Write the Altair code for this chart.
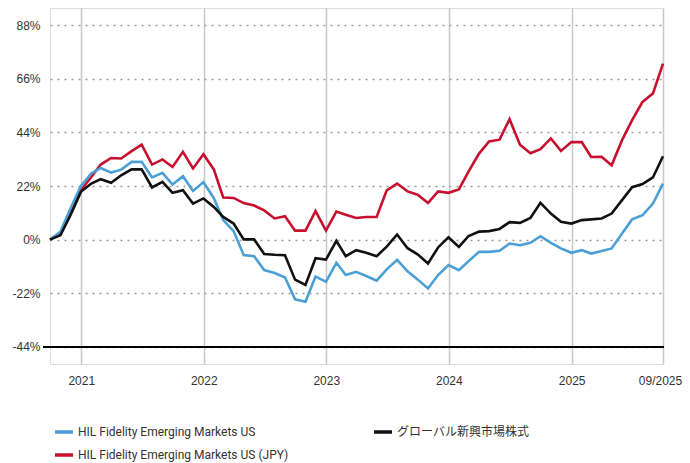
import altair as alt
import pandas as pd

# ---- data ----
dates = [d.strftime("%Y-%m-%d") for d in pd.date_range("2020-09-30", "2025-09-30", freq="ME")]

blue_name = "HIL Fidelity Emerging Markets US"
black_name = "グローバル新興市場株式"
red_name = "HIL Fidelity Emerging Markets US (JPY)"

blue_vals = [0, 3.2, 12.8, 22.0, 27.1, 29.4, 27.5, 28.7, 31.9, 31.9, 25.5, 27.4,
             22.6, 26.0, 20.0, 23.6, 17.0, 8.0, 3.5, -6.3, -6.8, -12.5, -13.7, -15.5,
             -24.5, -25.5, -15.1, -17.3, -9.5, -14.5, -13.2, -14.9, -16.8, -12.2, -8.3, -13.0,
             -16.3, -20.0, -14.5, -10.4, -12.5, -8.8, -5.0, -5.0, -4.6, -1.6, -2.3, -1.3,
             1.4, -1.3, -3.6, -5.4, -4.3, -5.7, -4.7, -3.6, 2.5, 8.3, 10.0, 14.8, 23.0]

black_vals = [0, 1.8, 10.0, 19.6, 23.0, 24.8, 23.3, 26.4, 28.8, 28.8, 21.4, 23.7,
              19.2, 20.3, 14.8, 16.9, 13.4, 9.3, 6.6, 0.1, 0.1, -5.9, -6.2, -6.4,
              -16.4, -18.6, -7.6, -8.2, -0.5, -6.8, -4.3, -5.4, -6.8, -2.9, 2.1, -3.5,
              -6.0, -9.8, -3.2, 1.0, -3.0, 1.5, 3.3, 3.5, 4.4, 7.2, 6.9, 8.9,
              15.1, 10.7, 7.3, 6.6, 8.0, 8.3, 8.7, 10.7, 16.2, 21.5, 22.8, 25.5, 34.2]

red_vals = [0, 2.5, 10.7, 20.3, 25.7, 30.8, 33.5, 33.3, 36.3, 39.0, 30.8, 32.9,
            29.8, 36.0, 29.2, 35.0, 28.8, 17.3, 17.1, 15.0, 14.0, 12.0, 8.7, 9.6,
            3.7, 3.7, 11.7, 3.7, 11.5, 10.2, 8.9, 9.3, 9.3, 20.2, 23.0, 19.8,
            18.4, 15.0, 19.8, 19.2, 20.6, 28.0, 35.3, 40.3, 41.0, 49.4, 38.9, 35.4,
            37.1, 41.5, 36.4, 40.0, 40.0, 33.9, 34.0, 30.5, 40.8, 49.0, 56.5, 59.9, 72.2]

# legend fills column by column: (blue, red) in column 1, black in column 2
series_names = [blue_name, red_name, black_name]
series_colors = ["#4a9fd6", "#c8102e", "#111111"]

y_ticks = [-44, -22, 0, 22, 44, 66, 88]
x_tick_dates = ["2021-01-01", "2022-01-01", "2023-01-01", "2024-01-01", "2025-01-01", "2025-09-30"]

# ---- build table ----
rows = []
for name, vals in [(red_name, red_vals), (blue_name, blue_vals), (black_name, black_vals)]:
    for d, v in zip(dates, vals):
        rows.append({"date": d, "value": v, "series": name})
df = pd.DataFrame(rows)

x_tick_ms = [int(pd.Timestamp(d).value // 10**6) for d in x_tick_dates]

W, H = 613, 356
axis_font = "Liberation Sans, Arial, sans-serif"
legend_font = "Roboto, Noto Sans CJK JP, sans-serif"

x_enc = alt.X(
    "date:T",
    scale=alt.Scale(type="utc",
                    domain=[int(pd.Timestamp(dates[0]).value // 10**6),
                            int(pd.Timestamp(dates[-1]).value // 10**6)]),
    axis=alt.Axis(
        title=None, values=x_tick_ms, domain=False, ticks=False, tickSize=0,
        labelExpr="utcmonth(datum.value) == 0 ? utcFormat(datum.value, '%Y') : utcFormat(datum.value, '%m/%Y')",
        grid=True, gridColor="#c8c8c8", gridWidth=1.5,
        labelFont=axis_font, labelFontSize=12, labelColor="#333333", labelPadding=11,
        labelFlush=False,
        labelOffset={"condition": {"test": "utcmonth(datum.value) != 0", "value": -3}, "value": 0},
    ),
)

y_enc = alt.Y(
    "value:Q",
    scale=alt.Scale(domain=[-51, 95], nice=False, zero=False),
    axis=alt.Axis(
        title=None, values=y_ticks, domain=False, ticks=False, tickSize=0,
        labelExpr="datum.value + '%'",
        grid=True, gridColor="#9a9a9a", gridDash=[2, 5], gridWidth=1.6,
        labelFont=axis_font, labelFontSize=12, labelColor="#333333", labelPadding=10,
    ),
)

lines = alt.Chart(df).mark_line(strokeWidth=2.6, strokeJoin="miter", interpolate="linear").encode(
    x=x_enc,
    y=y_enc,
    color=alt.Color(
        "series:N",
        scale=alt.Scale(domain=series_names, range=series_colors),
        legend=alt.Legend(
            title=None, orient="none", legendX=3, legendY=413, columns=2,
            columnPadding=78, rowPadding=5, symbolType="stroke", symbolSize=324,
            symbolStrokeWidth=3.5, labelFont=legend_font, labelFontSize=12,
            labelColor="#333333", labelOffset=3, padding=0, labelLimit=400,
        ),
    ),
    order=alt.Order("order_key:Q"),
    detail="series:N",
).transform_calculate(
    order_key=f"datum.series == '{black_name}' ? 3 : (datum.series == '{blue_name}' ? 2 : 1)"
)

base_rule = alt.Chart(pd.DataFrame({"v": [y_ticks[0]]})).mark_rule(
    color="#000000", strokeWidth=2
).encode(
    y=alt.Y("v:Q", scale=alt.Scale(domain=[-51, 95], nice=False, zero=False)),
    x=alt.value(-7),
    x2=alt.value(W + 1),
)

chart = alt.layer(base_rule, lines).properties(
    width=W, height=H,
    autosize=alt.AutoSizeParams(type="none"),
    padding={"left": 42, "top": 0, "right": 19, "bottom": 99},
).configure_view(stroke=None).configure(background="#ffffff")

chart.save("out.html", embed_options={"renderer": "svg", "actions": False})
